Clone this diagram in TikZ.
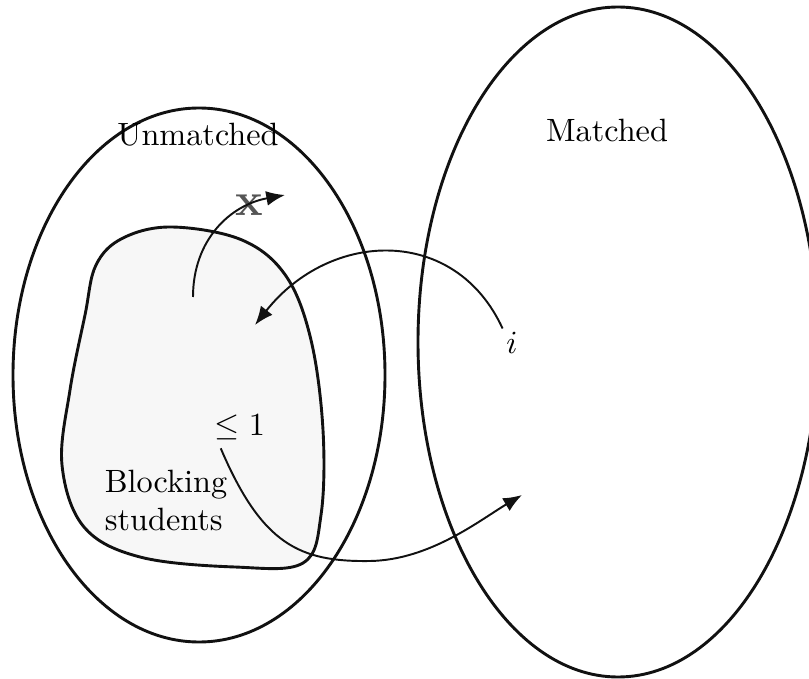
\documentclass[tikz,border=0pt]{standalone}
\usepackage{amsmath}
\usepackage{tikz}
\usepackage{xcolor}
\usetikzlibrary{arrows.meta,positioning,calc}
\definecolor{stblob}{HTML}{F7F7F7}
\definecolor{stink}{HTML}{111111}
\definecolor{stcross}{HTML}{555555}
\tikzset{
  stset/.style={draw=stink, line width=0.9pt},
  stblock/.style={draw=stink, line width=0.9pt, fill=stblob},
  stlabel/.style={inner sep=1pt, align=left},
  starrow/.style={-{Latex[length=5.8pt,width=4.6pt]}, semithick, draw=stink}
}

\begin{document}
\begin{tikzpicture}[x=0.31pt, y=-0.31pt, font=\normalsize]
\useasboundingbox (0,0) rectangle (809,679);
\draw[stset] (199,375) ellipse [x radius=186, y radius=267];
\draw[stset] (618,342) ellipse [x radius=200, y radius=335];
\draw[stblock] plot[smooth cycle, tension=0.6] coordinates {
  (172,227) (242,240) (286,276) (311,340) (323,430)
  (321,515) (303,563) (235,567) (140,557) (84,527) (62,465)
  (70,390) (85,315) (96,265) (123,238)};
\node[stlabel] (unm) at (198,135) {Unmatched};
\node[stlabel] (mat) at (607,130) {Matched};
\node[stlabel, anchor=north west] (blk) at (101,466) {Blocking\\students};
\node[stlabel] (le) at (240,427) {$\leq 1$};
\node[stlabel] (i) at (512,343) {$i$};
\node[stlabel, text=stcross, font=\Large\bfseries] (cross) at (249,205) {x};
\coordinate (up) at (193,297);
\coordinate (out) at (285,195);
\coordinate (in) at (255,325);
\coordinate (low) at (370,561);
\coordinate (mtip) at (522,495);
\draw[starrow] (up) .. controls (193,240) and (230,205) .. (out);
\draw[starrow] (i.north west) .. controls (455,225) and (330,230) .. (in);
\draw[starrow] ([xshift=3pt,yshift=-1.5pt]le.south west) .. controls (262,545) and (300,562) .. (low)
  .. controls (430,560) and (480,520) .. (mtip);
\end{tikzpicture}
\end{document}
